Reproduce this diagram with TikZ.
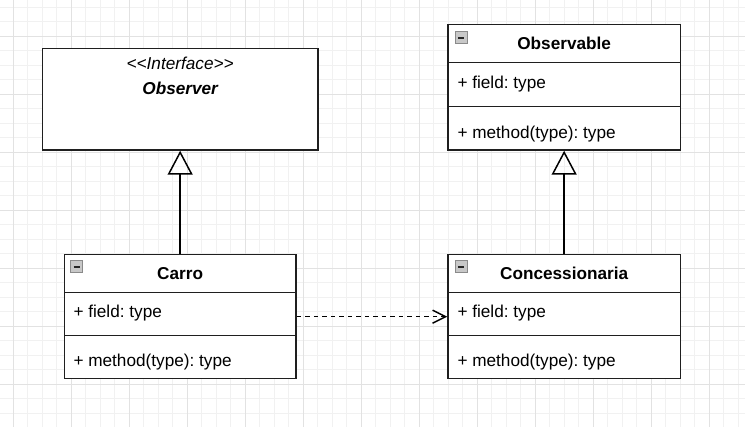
\documentclass[tikz,border=0pt]{standalone}
\usepackage{fontspec}
\setmainfont{Liberation Sans}
\usetikzlibrary{arrows.meta}
\definecolor{gridminor}{HTML}{F1F1F1}
\definecolor{gridmajor}{HTML}{E2E2E2}
\definecolor{iconfill}{HTML}{C8C8C8}
\definecolor{iconedge}{HTML}{8A8A8A}
\frenchspacing
\begin{document}
\begin{tikzpicture}[x=1pt,y=-1pt,
  classbox/.style={draw=black!88, line width=1.5pt, fill=white, inner sep=0pt},
  divider/.style={draw=black!88, line width=1.5pt},
  titletxt/.style={font=\fontsize{17.2}{20}\selectfont\bfseries, anchor=base, inner sep=0pt},
  membertxt/.style={font=\fontsize{17.2}{20}\selectfont, anchor=base west, inner sep=0pt},
  stereotxt/.style={font=\fontsize{17.2}{20}\selectfont\itshape, anchor=base, inner sep=0pt},
  iconbox/.style={draw=iconedge, fill=iconfill, line width=1pt, minimum size=12pt, inner sep=0pt, anchor=north west},
  iconbar/.style={draw=black!85, line width=1.6pt},
  inherit/.style={draw=black, line width=1.5pt, -{Triangle[open, length=24pt, width=25pt]}},
  depend/.style={draw=black, line width=1.5pt, dash pattern=on 4.5pt off 4pt, -{Straight Barb[length=13pt, width=13pt]}}
]
\useasboundingbox (0,0) rectangle (745,427);
\fill[white] (0,0) rectangle (745,427);
% grid
\foreach \i in {0,...,51} { \draw[gridminor, line width=0.9pt] ({-1.2+14.5*\i},0) -- ++(0,427); }
\foreach \i in {0,...,29} { \draw[gridminor, line width=0.9pt] (0,{7+14.5*\i}) -- ++(745,0); }
\foreach \i in {0,...,12} { \draw[gridmajor, line width=0.9pt] ({13.3+58*\i},0) -- ++(0,427); }
\foreach \i in {0,...,6} { \draw[gridmajor, line width=0.9pt] (0,{36+58*\i}) -- ++(745,0); }

% Observer interface
\node[classbox, minimum width=275.7pt, minimum height=101.7pt] (observer) at (180.15,99.15) {};
\node[stereotxt] (stereo) at (180.15,70) {{<}{<}Interface{>}{>}};
\node[titletxt, font=\fontsize{17.2}{20}\selectfont\bfseries\itshape] (obstitle) at (180.15,95) {Observer};

% Observable
\node[classbox, minimum width=232.3pt, minimum height=125.3pt] (observable) at (564.15,87.35) {};
\draw[divider] (448,62.7) -- (680.3,62.7);
\draw[divider] (448,106.7) -- (680.3,106.7);
\node[iconbox] (icoA) at (454.5,31.5) {};
\draw[iconbar] ([xshift=-3.2pt]icoA.center) -- ([xshift=3.2pt]icoA.center);
\node[titletxt] (obsbltitle) at (564.15,50) {Observable};
\node[membertxt] (obsblfield) at (457.3,88.3) {+ field: type};
\node[membertxt] (obsblmethod) at (457.3,138.3) {+ method(type): type};

% Carro
\node[classbox, minimum width=231.7pt, minimum height=124pt] (carro) at (180.15,316.7) {};
\draw[divider] (64.3,292.3) -- (296,292.3);
\draw[divider] (64.3,335.7) -- (296,335.7);
\node[iconbox] (icoB) at (70.3,260.5) {};
\draw[iconbar] ([xshift=-3.2pt]icoB.center) -- ([xshift=3.2pt]icoB.center);
\node[titletxt] (carrotitle) at (180.15,279.5) {Carro};
\node[membertxt] (carrofield) at (73.3,317.7) {+ field: type};
\node[membertxt] (carromethod) at (73.3,366.7) {+ method(type): type};

% Concessionaria
\node[classbox, minimum width=232.3pt, minimum height=124pt] (conc) at (564.15,316.7) {};
\draw[divider] (448,292.3) -- (680.3,292.3);
\draw[divider] (448,335.7) -- (680.3,335.7);
\node[iconbox] (icoC) at (454.5,260.5) {};
\draw[iconbar] ([xshift=-3.2pt]icoC.center) -- ([xshift=3.2pt]icoC.center);
\node[titletxt] (conctitle) at (564.15,279.5) {Concessionaria};
\node[membertxt] (concfield) at (457.3,317.7) {+ field: type};
\node[membertxt] (concmethod) at (457.3,366.7) {+ method(type): type};

% connectors
\draw[inherit] (carro.north) -- (observer.south);
\draw[inherit] (conc.north) -- (observable.south);
\draw[depend] (carro.east) -- (conc.west);
\end{tikzpicture}
\end{document}
